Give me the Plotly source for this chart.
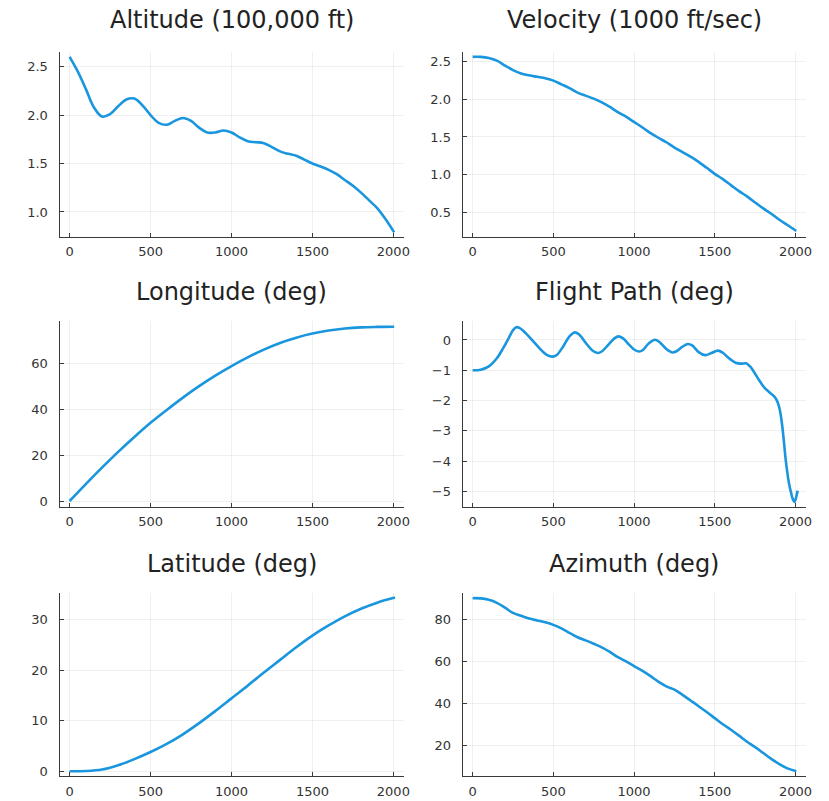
import plotly.graph_objects as go

# ---------------- data ----------------
titles = ["Altitude (100,000 ft)", "Velocity (1000 ft/sec)", "Longitude (deg)",
          "Flight Path (deg)", "Latitude (deg)", "Azimuth (deg)"]

alt_x = [0, 50, 100, 150, 200, 250, 300, 350, 400, 450, 500, 550, 600, 650, 700, 750, 800,
         850, 900, 950, 1000, 1050, 1100, 1150, 1200, 1250, 1300, 1350, 1400, 1450, 1500,
         1550, 1600, 1650, 1700, 1750, 1800, 1850, 1900, 1950, 2005]
alt_y = [2.60, 2.45, 2.27, 2.08, 1.985, 2.01, 2.09, 2.16, 2.17, 2.10, 2.00, 1.92, 1.90, 1.94,
         1.97, 1.94, 1.87, 1.82, 1.82, 1.84, 1.82, 1.77, 1.73, 1.72, 1.71, 1.67, 1.625, 1.60,
         1.58, 1.54, 1.50, 1.47, 1.435, 1.39, 1.33, 1.27, 1.20, 1.12, 1.04, 0.93, 0.79]

vel_x = [0, 50, 100, 150, 200, 250, 300, 350, 400, 450, 500, 550, 600, 650, 700, 750, 800,
         850, 900, 950, 1000, 1050, 1100, 1150, 1200, 1250, 1300, 1350, 1400, 1450, 1500,
         1550, 1600, 1650, 1700, 1750, 1800, 1850, 1900, 1950, 2005]
vel_y = [2.566, 2.565, 2.55, 2.515, 2.45, 2.39, 2.345, 2.32, 2.30, 2.28, 2.25, 2.20, 2.15,
         2.09, 2.05, 2.01, 1.96, 1.90, 1.83, 1.77, 1.70, 1.63, 1.555, 1.49, 1.43, 1.36, 1.30,
         1.24, 1.17, 1.09, 1.01, 0.94, 0.86, 0.78, 0.71, 0.63, 0.55, 0.48, 0.40, 0.33, 0.25]

lon_x = [0, 100, 200, 300, 400, 500, 600, 700, 800, 900, 1000, 1100, 1200, 1300, 1400,
         1500, 1600, 1700, 1800, 1900, 2005]
lon_y = [0.0, 7.4, 14.6, 21.5, 28.0, 34.2, 39.8, 45.2, 50.2, 54.8, 59.0, 62.8, 66.2, 69.1,
         71.4, 73.2, 74.5, 75.4, 75.9, 76.1, 76.2]

fp_x = [0, 50, 100, 150, 190, 225, 250, 270, 290, 330, 380, 430, 465, 494, 520, 560, 600,
        631, 660, 700, 740, 774, 800, 840, 880, 903, 930, 970, 1005, 1031, 1055, 1090, 1129,
        1160, 1200, 1236, 1260, 1300, 1334, 1360, 1400, 1440, 1480, 1519, 1550, 1581, 1633,
        1665, 1694, 1720, 1745, 1775, 1806, 1840, 1868, 1885, 1897, 1908, 1918, 1929, 1939,
        1949, 1959, 1970, 1980, 1988, 1994, 2000, 2006, 2014]
fp_y = [-1.00, -0.98, -0.87, -0.60, -0.26, 0.08, 0.32, 0.42, 0.40, 0.22, -0.07, -0.36,
        -0.51, -0.55, -0.50, -0.22, 0.12, 0.25, 0.18, -0.09, -0.34, -0.43, -0.38, -0.16,
        0.06, 0.12, 0.06, -0.16, -0.33, -0.38, -0.33, -0.12, 0.01, -0.08, -0.30, -0.41,
        -0.38, -0.22, -0.13, -0.18, -0.40, -0.50, -0.43, -0.35, -0.42, -0.57, -0.76, -0.78,
        -0.77, -0.88, -1.07, -1.33, -1.56, -1.73, -1.86, -2.00, -2.17, -2.45, -2.83, -3.38,
        -3.93, -4.35, -4.70, -4.98, -5.19, -5.30, -5.34, -5.27, -5.14, -4.97]

lat_x = [0, 100, 200, 300, 400, 500, 600, 700, 800, 900, 1000, 1100, 1200, 1300, 1400,
         1500, 1600, 1700, 1800, 1900, 2010]
lat_y = [0.0, 0.05, 0.35, 1.2, 2.4, 3.8, 5.4, 7.3, 9.5, 11.9, 14.4, 16.9, 19.5, 22.0, 24.5,
         26.8, 28.8, 30.6, 32.1, 33.3, 34.3]

az_x = [0, 50, 100, 150, 200, 250, 300, 350, 400, 450, 500, 550, 600, 650, 700, 750, 800,
        850, 900, 950, 1000, 1050, 1100, 1150, 1200, 1250, 1300, 1350, 1400, 1450, 1500,
        1550, 1600, 1650, 1700, 1750, 1800, 1850, 1900, 1950, 2005]
az_y = [90.0, 89.9, 89.2, 87.8, 85.5, 83.0, 81.6, 80.3, 79.4, 78.5, 77.3, 75.6, 73.5, 71.4,
        69.9, 68.3, 66.6, 64.4, 61.9, 59.9, 57.7, 55.5, 53.0, 50.3, 48.0, 46.5, 44.0, 41.3,
        38.6, 35.8, 32.9, 30.0, 27.4, 24.6, 21.7, 19.1, 16.3, 13.5, 11.0, 9.0, 7.6]

series_x = [alt_x, vel_x, lon_x, fp_x, lat_x, az_x]
series_y = [alt_y, vel_y, lon_y, fp_y, lat_y, az_y]

x_ticks = [0, 500, 1000, 1500, 2000]
y_ticks = [[1.0, 1.5, 2.0, 2.5], [0.5, 1.0, 1.5, 2.0, 2.5], [0, 20, 40, 60],
           [-5, -4, -3, -2, -1, 0], [0, 10, 20, 30], [20, 40, 60, 80]]
y_formats = [".1f", ".1f", "d", "d", "d", "d"]
y_ranges = [[0.745, 2.652], [0.174, 2.632], [-2.5, 78.6], [-5.5, 0.62], [-1.0, 35.3], [5.2, 92.7]]
x_range = [-62, 2066]

# ---------------- layout geometry ----------------
W, H = 829, 801
cols = [(60, 407), (466, 812)]
rows = [(52, 237.3), (322, 508), (594, 778.3)]
title_mid = [20, 293, 565]

LINE = "rgb(25,150,222)"
AX = "#3a3a3a"
FONT = "DejaVu Sans"

fig = go.Figure()
annotations = []
layout = dict(width=W, height=H, margin=dict(l=0, r=0, t=0, b=0),
              paper_bgcolor="white", plot_bgcolor="white", showlegend=False,
              font=dict(family=FONT, color="#333"))

for i in range(6):
    r, c = divmod(i, 2)
    n = "" if i == 0 else str(i + 1)
    xa, ya = "x" + n, "y" + n
    fig.add_trace(go.Scatter(x=series_x[i], y=series_y[i], mode="lines",
                             line=dict(color=LINE, width=2.6, shape="spline", smoothing=1.0),
                             xaxis=xa, yaxis=ya, hoverinfo="skip"))
    x0, x1 = cols[c]
    y0, y1 = rows[r]
    common = dict(showline=True, linecolor=AX, linewidth=1.2, mirror=False,
                  ticks="inside", ticklen=4, tickcolor=AX, tickwidth=1,
                  showgrid=True, gridcolor="rgba(0,0,0,0.06)", gridwidth=1,
                  zeroline=False, tickfont=dict(family=FONT, size=13, color="#333"))
    layout["xaxis" + n] = dict(domain=[x0 / W, x1 / W], anchor=ya, range=x_range,
                               tickvals=x_ticks, ticklabelstandoff=3, **common)
    layout["yaxis" + n] = dict(domain=[1 - y1 / H, 1 - y0 / H], anchor=xa, range=y_ranges[i],
                               tickvals=y_ticks[i], tickformat=y_formats[i],
                               ticklabelstandoff=8, **common)
    annotations.append(dict(text=titles[i], xref="paper", yref="paper",
                            x=(x0 + x1) / 2 / W, y=1 - title_mid[r] / H,
                            xanchor="center", yanchor="middle", showarrow=False,
                            font=dict(family=FONT, size=24, color="#222")))

layout["annotations"] = annotations
fig.update_layout(**layout)
fig.write_html("out.html", config={"displayModeBar": False},
               post_script="document.body.style.margin='0px';document.body.style.overflow='hidden';")
